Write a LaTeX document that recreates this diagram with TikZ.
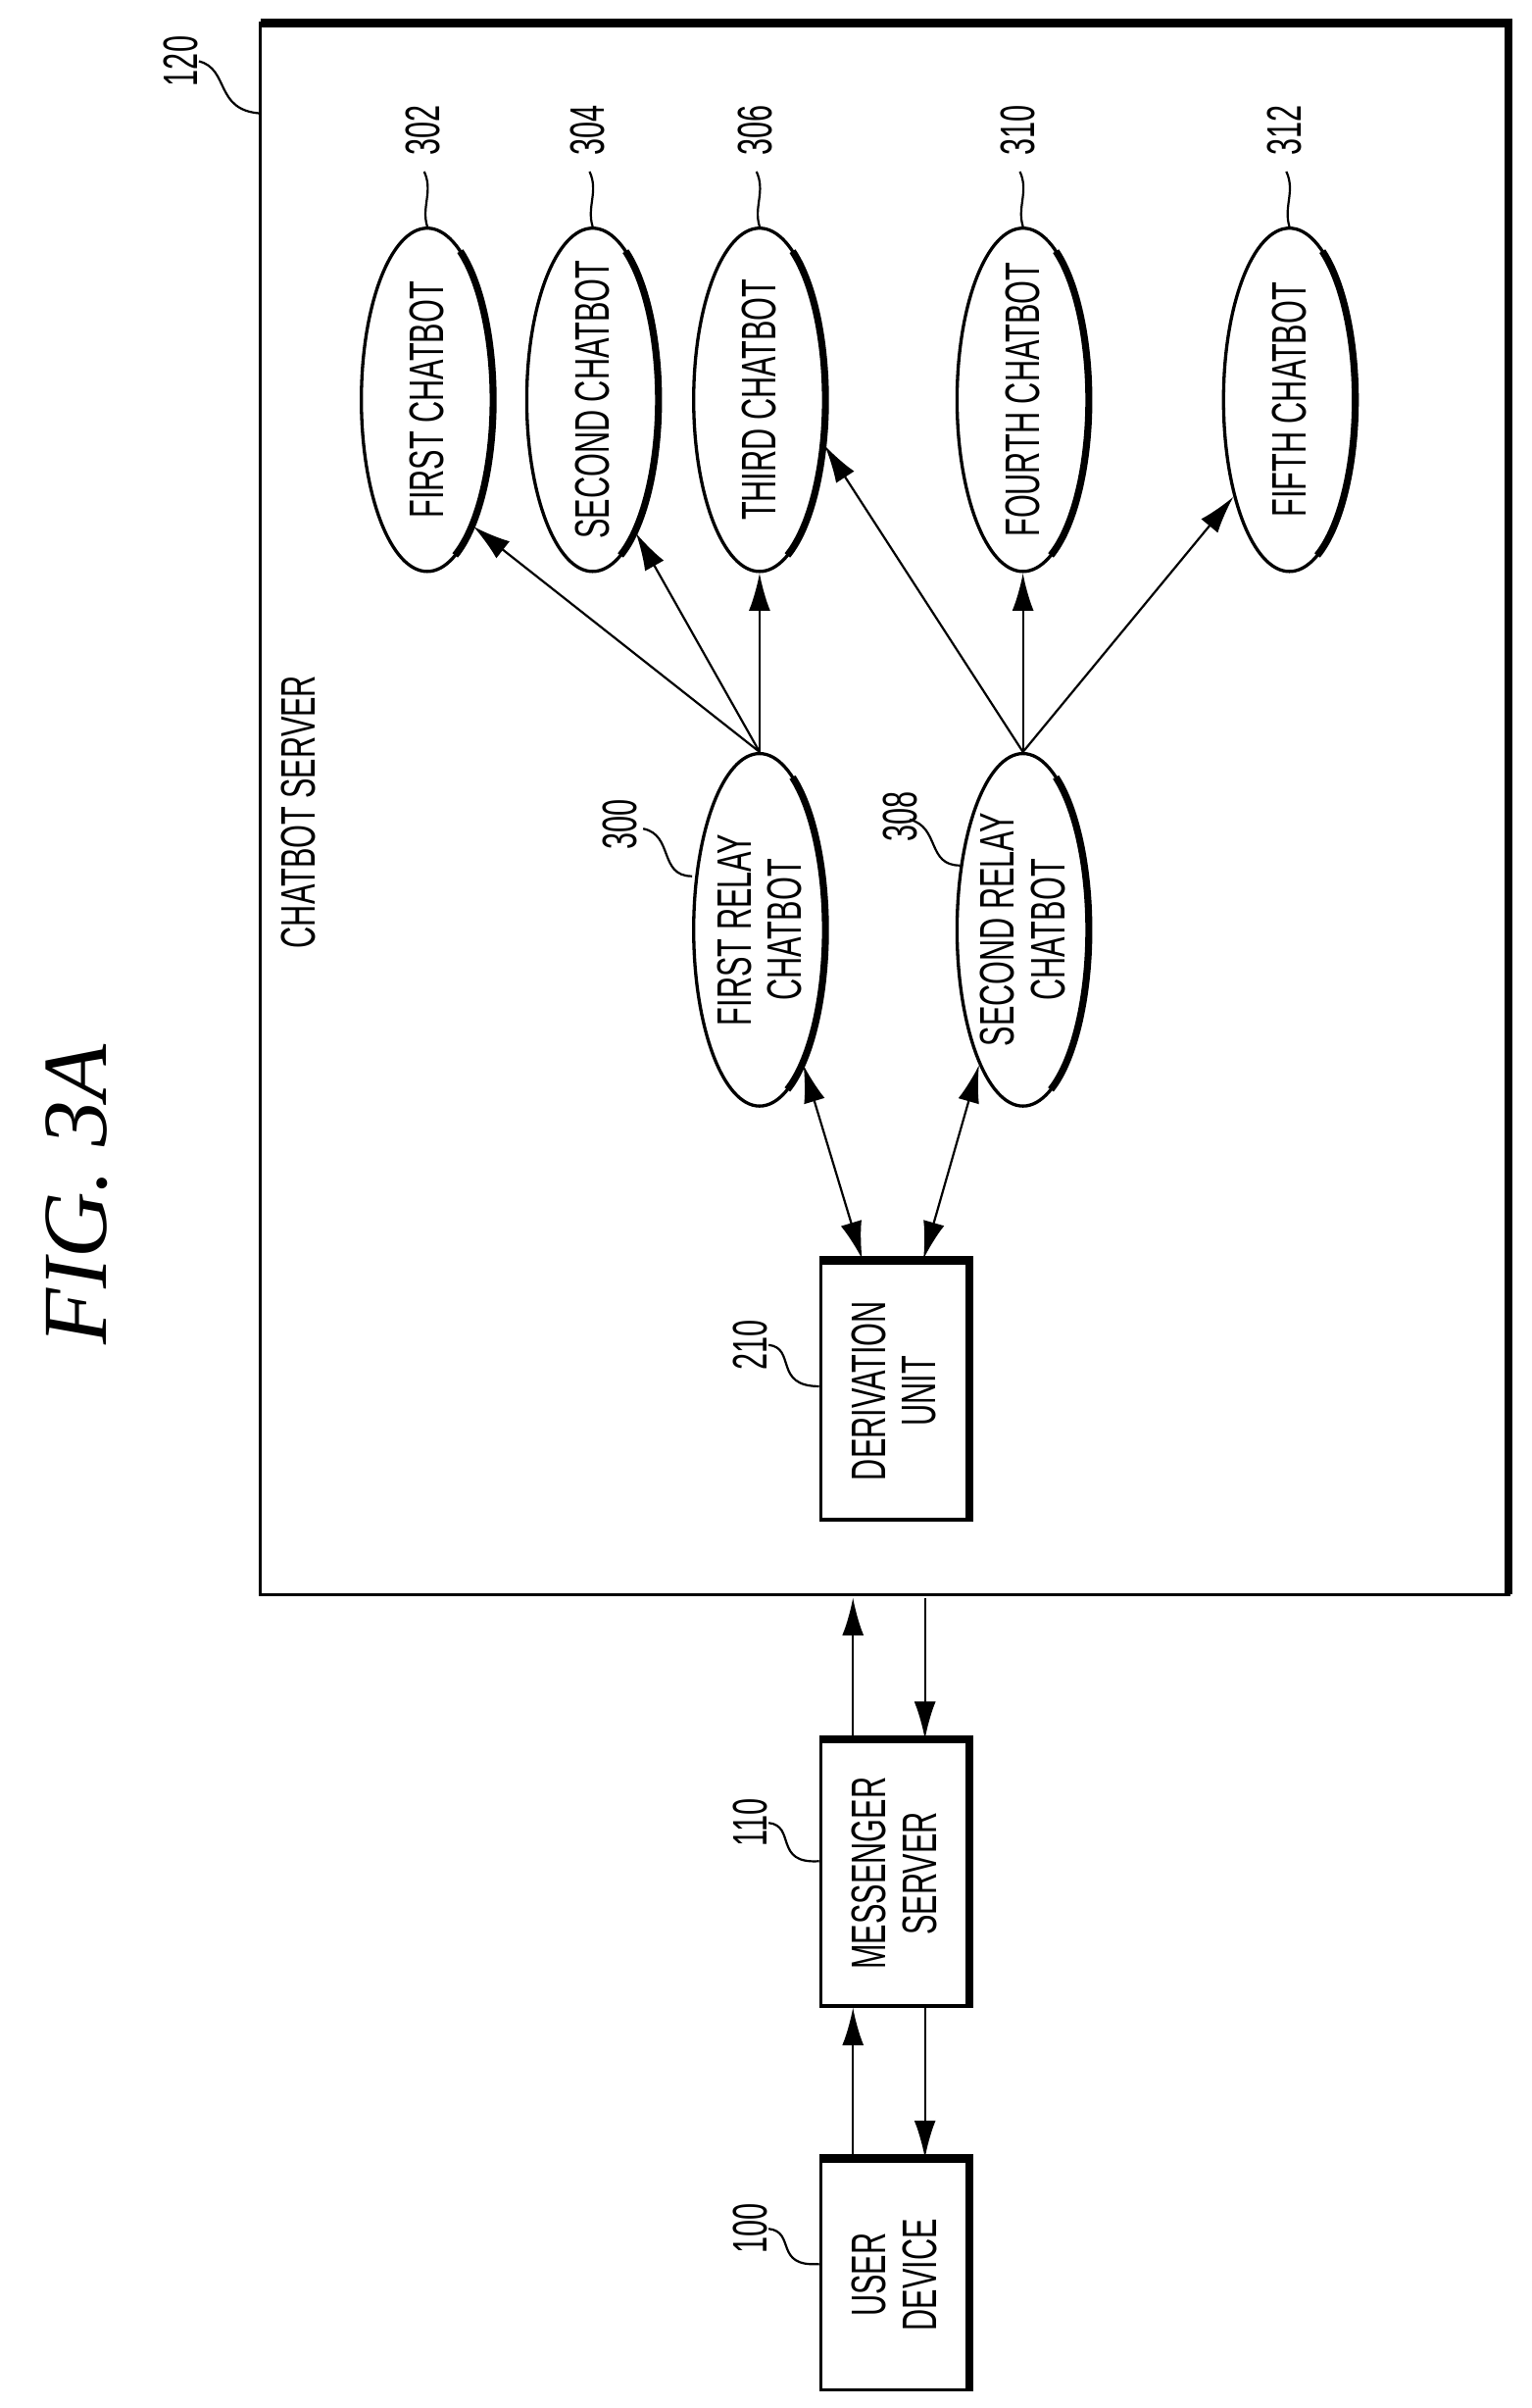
\documentclass[tikz,border=0pt]{standalone}
\usepackage{fontspec}
\setmainfont{Liberation Sans}
\newfontfamily\figfont{Liberation Serif}
\usetikzlibrary{arrows.meta,shapes.geometric,calc}
\newcommand{\cnd}[1]{\scalebox{0.62}[1]{#1}}
\begin{document}
\begin{tikzpicture}[x=0.01cm,y=-0.01cm,
  lbl/.style={font=\fontsize{9}{10}\selectfont,inner sep=0},
  num/.style={font=\fontsize{9}{10}\selectfont,inner sep=0,rotate=90},
  ell/.style={draw,semithick,ellipse,minimum width=0.86cm,minimum height=2.3cm,inner sep=0},
  box/.style={draw,semithick},
  arr/.style={-{Latex[length=7pt,width=4pt]},thin},
  darr/.style={{Latex[length=7pt,width=4pt]}-{Latex[length=7pt,width=4pt]},thin},
  lead/.style={thin}]
\useasboundingbox (0,0) rectangle (1000,1572);
\node[rotate=90,font=\figfont\itshape\fontsize{17}{18}\selectfont] (fig) at (50,780) {FIG. 3A};
% big box
\draw[semithick] (170,15) rectangle (985,1041);
\draw[line width=1.6pt] (170,15) -- (985,15) -- (985,1041);
\node[num] (n120) at (118,40) {\cnd{120}};
\coordinate (c120) at (170,74);
\draw[lead] (n120.south) .. controls (150,45) and (140,72) .. (c120);
\node[lbl,rotate=90] (cs) at (195,530) {\cnd{CHATBOT SERVER}};
% boxes
\node[box,minimum width=0.96cm,minimum height=1.68cm] (du) at (584,908) {};
\draw[line width=1.6pt] (du.north west) -- (du.north east) -- (du.south east);
\node[lbl,rotate=90] at (du) {\cnd{\shortstack{DERIVATION\\UNIT}}};
\node[box,minimum width=0.96cm,minimum height=1.73cm] (ms) at (584,1223) {};
\draw[line width=1.6pt] (ms.north west) -- (ms.north east) -- (ms.south east);
\node[lbl,rotate=90] at (ms) {\cnd{\shortstack{MESSENGER\\SERVER}}};
\node[box,minimum width=0.96cm,minimum height=1.5cm] (ud) at (584,1485) {};
\draw[line width=1.6pt] (ud.north west) -- (ud.north east) -- (ud.south east);
\node[lbl,rotate=90] at (ud) {\cnd{\shortstack{USER\\DEVICE}}};
\node[num] (n210) at (490,878) {\cnd{210}};
\draw[lead] (n210.south) .. controls (520,880) and (505,905) .. (du.west|-0,905);
\node[num] (n110) at (490,1190) {\cnd{110}};
\draw[lead] (n110.south) .. controls (520,1192) and (505,1217) .. (ms.west|-0,1215);
\node[num] (n100) at (490,1455) {\cnd{100}};
\draw[lead] (n100.south) .. controls (520,1457) and (505,1480) .. (ud.west|-0,1478);
% arrows between boxes
\coordinate (b1) at (557,1043); \coordinate (b2) at (604,1043);
\draw[arr] (ms.north -| 557,0) -- (b1);
\draw[arr] (b2) -- (ms.north -| 604,0);
\draw[arr] (ud.north -| 557,0) -- (ms.south -| 557,0);
\draw[arr] (ms.south -| 604,0) -- (ud.north -| 604,0);
% ellipses
\node[ell] (r1) at (496,607) {};
\node[lbl,rotate=90] at (r1) {\cnd{\shortstack{FIRST RELAY\\CHATBOT}}};
\node[ell] (r2) at (668,607) {};
\node[lbl,rotate=90] at (r2) {\cnd{\shortstack{SECOND RELAY\\CHATBOT}}};
\foreach \n in {r1,r2}{
  \draw[line width=1.3pt] ($(\n.center)+({0.43cm*cos(60)},{1.15cm*sin(60)})$) arc[start angle=60,end angle=-65,x radius=0.43cm,y radius=1.15cm];
}
\foreach \n/\x/\t in {c1/279/FIRST CHATBOT,c2/387/SECOND CHATBOT,c3/496/THIRD CHATBOT,c4/668/FOURTH CHATBOT,c5/842/FIFTH CHATBOT}{
  \node[ell,minimum height=2.24cm] (\n) at (\x,261) {};
  \node[lbl,rotate=90] at (\n) {\cnd{\t}};
  \draw[line width=1.3pt] ($(\n.center)+({0.43cm*cos(60)},{1.12cm*sin(60)})$) arc[start angle=60,end angle=-65,x radius=0.43cm,y radius=1.12cm];
}
\foreach \n/\x/\t in {c1/279/302,c2/387/304,c3/496/306,c4/668/310,c5/842/312}{
  \node[num] (l\n) at (\x-3,85) {\cnd{\t}};
  \draw[lead] (\x-2,112) .. controls (\x+4,125) and (\x-4,135) .. (\n.north);
}
\node[num] (n300) at (405,538) {\cnd{300}};
\draw[lead] (420,541) .. controls (440,545) and (430,572) .. (r1.west|-0,572);
\node[num] (n308) at (588,533) {\cnd{308}};
\draw[lead] (594,535) .. controls (614,540) and (605,565) .. ($(r2.center)+(-0.41cm,0.42cm)$);
% connectors
\draw[darr] (563,822) -- (r1.-72);
\draw[darr] (603,822) -- (r2.-108);
\draw[arr] (r1.north) -- (c1.-70);
\draw[arr] (r1.north) -- (c2.-72);
\draw[arr] (r1.north) -- (c3.south);
\draw[arr] (r2.north) -- (c3.-35);
\draw[arr] (r2.north) -- (c4.south);
\draw[arr] (r2.north) -- (c5.-120);
\end{tikzpicture}
\end{document}
